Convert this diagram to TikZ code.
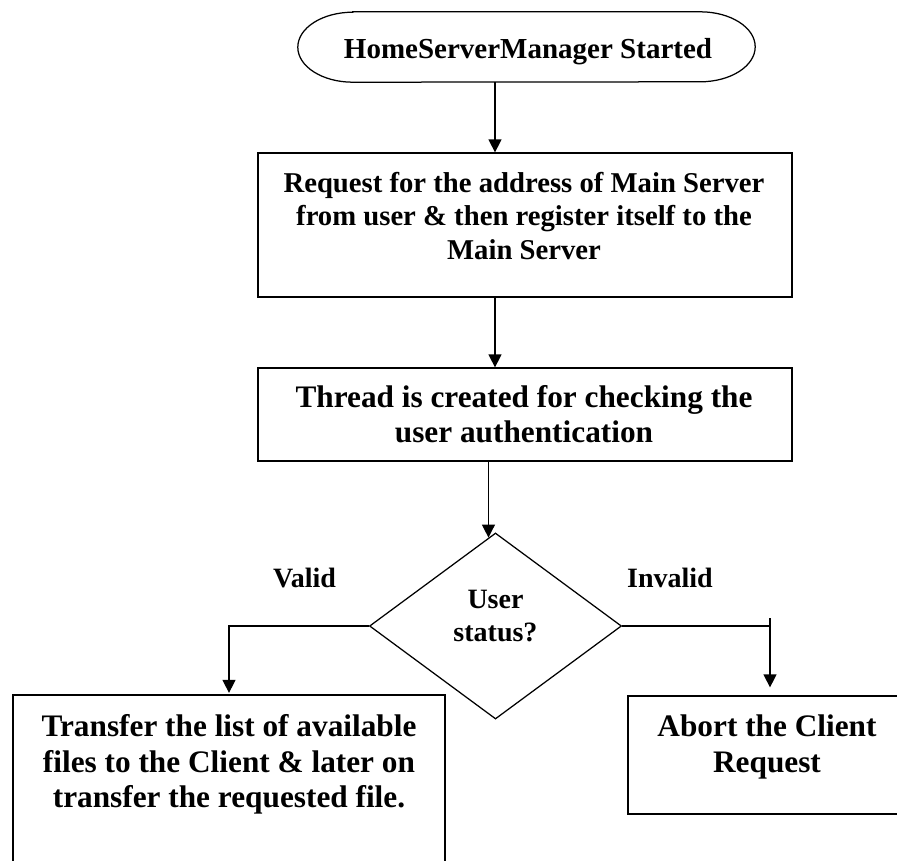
\documentclass[tikz,border=0pt]{standalone}
\usepackage{fontspec}
\setmainfont{Liberation Serif}
\usetikzlibrary{shapes.geometric,arrows.meta,calc}
\begin{document}
\begin{tikzpicture}[x=1pt,y=-1pt,
  outline/.style={draw=black, line width=1.25pt},
  flowbox/.style={outline, rectangle, inner sep=0pt},
  arr/.style={draw=black, line width=1.25pt, -{Triangle[length=13pt,width=13pt]}},
  link/.style={draw=black, line width=1.25pt},
  txtstart/.style={font=\fontsize{29}{34}\selectfont\bfseries, inner sep=0pt},
  txtmid/.style={font=\fontsize{28.7}{33.5}\selectfont\bfseries, align=center, inner sep=0pt},
  txtbig/.style={font=\fontsize{31.3}{35.5}\selectfont\bfseries, align=center, inner sep=0pt},
  txtsmall/.style={font=\fontsize{28}{33}\selectfont\bfseries, align=center, inner sep=0pt}
]
\useasboundingbox (0,0) rectangle (897,860);
\clip (0,0) rectangle (897,860);

% start terminal: straight top and bottom with elliptic ends
\node[inner sep=0pt, minimum width=457pt, minimum height=70pt] (start) at (526.5,47) {};
\draw[link] ([xshift=55pt]start.north west) -- ([xshift=-55pt]start.north east)
  arc[start angle=90, end angle=-90, x radius=55pt, y radius=35pt]
  -- ([xshift=55pt]start.south west)
  arc[start angle=270, end angle=90, x radius=55pt, y radius=35pt] -- cycle;

% process boxes and decision
\node[flowbox, minimum width=534pt, minimum height=144pt] (reg) at (525,225) {};
\node[flowbox, minimum width=534pt, minimum height=93pt] (thread) at (525,414.5) {};
\node[outline, diamond, minimum width=252pt, minimum height=186pt, inner sep=0pt] (dec) at (495.5,626) {};
\node[flowbox, minimum width=432pt, minimum height=185pt] (xfer) at (229,787.5) {};
\node[flowbox, minimum width=284pt, minimum height=118pt] (abort) at (770,755) {};

% texts
\node[txtstart] (startlbl) at (528,51.3) {HomeServerManager Started};
\node[txtmid] (reglbl) at (524,216) {Request for the address of Main Server\\from user \& then register itself to the\\Main Server};
\node[txtbig] (threadlbl) at (524,414.3) {Thread is created for checking the\\user authentication};
\node[txtsmall] (declbl) at (495.5,616) {User\\status?};
\node[txtbig] (xferlbl) at (229,764.8) {Transfer the list of available\\files to the Client \& later on\\transfer the requested file.};
\node[txtbig] (abortlbl) at (767,747.2) {Abort the Client\\Request};
\node[txtsmall, anchor=base] (validlbl) at (304.5,587) {Valid};
\node[txtsmall, anchor=base west] (invalidlbl) at (627,587) {Invalid};

% connectors
\coordinate (spine) at (495,0);
\draw[arr] (start.south -| spine) -- (reg.north -| spine);
\draw[arr] (reg.south -| spine) -- (thread.north -| spine);
\coordinate (hit) at ($(dec.north)!0.0556!(dec.west)$);
\draw[arr] (thread.south -| hit) -- (hit);
\draw[arr, shorten >=1.5pt] (dec.west) -| (xfer.north);
\coordinate (inv) at (dec.east -| abort.north);
\draw[link] (dec.east) -- (inv);
\draw[arr, shorten >=8pt] ([yshift=8pt]inv) -- (abort.north);
\end{tikzpicture}
\end{document}
